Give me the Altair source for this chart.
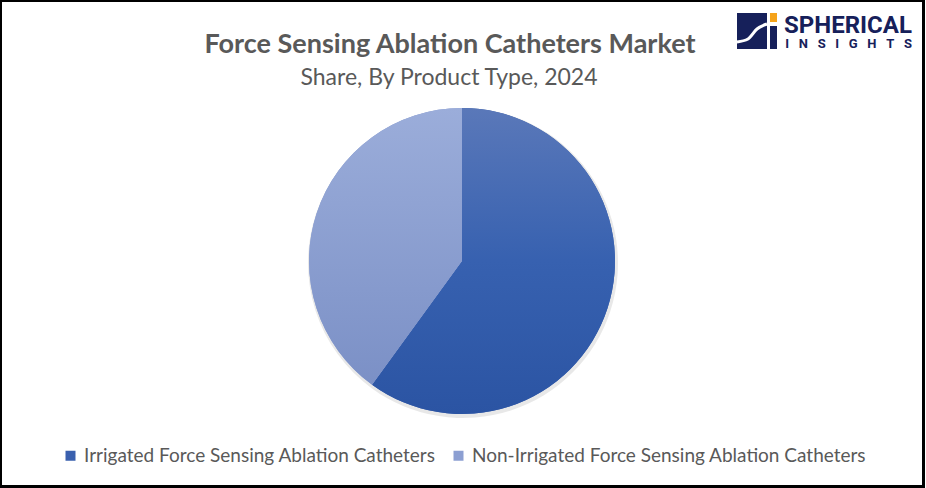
import math
import altair as alt
import pandas as pd

# Market share by product type, 2024 (%)
categories = [
    "Irrigated Force Sensing Ablation Catheters",
    "Non-Irrigated Force Sensing Ablation Catheters",
]
shares = [60, 40]
slice_order = [0, 1]

title_text = ["Force Sensing Ablation Catheters Market"]
subtitle_text = ["Share, By Product Type, 2024"]

W, H = 926, 488
CX, CY, R = 462, 261, 153
TEXT_GREY = "#595959"
NAVY = "#16205a"
ORANGE = "#f5a31a"
NBSP3 = "\u00a0\u00a0\u00a0"

flat_colors = ["#3a60ae", "#8c9fd2"]
grad_irrigated = alt.Gradient(
    gradient="linear", x1=0, y1=0, x2=0, y2=1,
    stops=[alt.GradientStop(offset=0, color="#5a78b9"),
           alt.GradientStop(offset=0.5, color="#3761b0"),
           alt.GradientStop(offset=1, color="#2b54a3")],
)
grad_non = alt.Gradient(
    gradient="linear", x1=0, y1=0, x2=0, y2=1,
    stops=[alt.GradientStop(offset=0, color="#9badda"),
           alt.GradientStop(offset=1, color="#7b90c6")],
)

df = pd.DataFrame({"category": categories, "share": shares, "order": slice_order})

base = (
    alt.Chart(df)
    .transform_window(cum="sum(share)", sort=[alt.SortField("order")])
    .transform_calculate(start="datum.cum - datum.share")
)

theta = alt.Theta("start:Q", scale=alt.Scale(domain=[0, 100], range=[0, 2 * math.pi]))
theta2 = alt.Theta2("cum:Q")

# soft drop shadow under the pie
shadow = base.mark_arc(outerRadius=R + 2, color="#000000", opacity=0.09).encode(
    theta=theta, theta2=theta2, x=alt.value(CX + 1), y=alt.value(CY + 2)
)

# flat-coloured pie: carries the legend
pie = base.mark_arc(outerRadius=R).encode(
    theta=theta,
    theta2=theta2,
    x=alt.value(CX),
    y=alt.value(CY),
    color=alt.Color(
        "category:N",
        scale=alt.Scale(domain=categories, range=flat_colors),
        legend=alt.Legend(
            title=None,
            orient="none",
            direction="horizontal",
            legendX=61,
            legendY=446,
            symbolType="square",
            symbolSize=100,
            symbolStrokeWidth=0,
            labelFont="Lato",
            labelFontSize=19,
            labelColor=TEXT_GREY,
            labelLimit=0,
            labelOffset=4,
            columnPadding=13,
            padding=0,
        ),
    ),
)

# gradient shading on top of each slice
shade_irr = base.transform_filter("datum.order == 0").mark_arc(
    outerRadius=R, fill=grad_irrigated
).encode(theta=theta, theta2=theta2, x=alt.value(CX), y=alt.value(CY))
shade_non = base.transform_filter("datum.order == 1").mark_arc(
    outerRadius=R, fill=grad_non
).encode(theta=theta, theta2=theta2, x=alt.value(CX), y=alt.value(CY))

one = pd.DataFrame({"k": [0]})

title = alt.Chart(pd.DataFrame({"t": title_text})).mark_text(
    font="Lato", fontSize=27, fontWeight="bold", color=TEXT_GREY, baseline="middle"
).encode(text="t:N", x=alt.value(450), y=alt.value(45))
subtitle = alt.Chart(pd.DataFrame({"t": subtitle_text})).mark_text(
    font="Lato", fontSize=23, color=TEXT_GREY, baseline="middle"
).encode(text="t:N", x=alt.value(449), y=alt.value(78))

# brand mark, top right
logo_box = alt.Chart(one).mark_rect(color=NAVY).encode(
    x=alt.value(737), x2=alt.value(767), y=alt.value(13), y2=alt.value(49)
)
logo_bar = alt.Chart(one).mark_rect(color=NAVY).encode(
    x=alt.value(770), x2=alt.value(777), y=alt.value(26), y2=alt.value(49)
)
logo_dot = alt.Chart(one).mark_rect(color=ORANGE).encode(
    x=alt.value(770), x2=alt.value(777), y=alt.value(13), y2=alt.value(22)
)
wave = pd.DataFrame({"px": [737, 748, 757, 767], "py": [42, 39, 29, 24]})
logo_wave = alt.Chart(wave).mark_line(
    color="white", strokeWidth=3, interpolate="monotone"
).encode(
    x=alt.X("px:Q", scale=alt.Scale(domain=[0, W], range=[0, W]), axis=None),
    y=alt.Y("py:Q", scale=alt.Scale(domain=[0, H], range=[0, H]), axis=None),
)
brand1 = alt.Chart(pd.DataFrame({"t": ["SPHERICAL"]})).mark_text(
    font="Roboto", fontSize=24, fontWeight="bold", color=NAVY, align="left", baseline="alphabetic"
).encode(text="t:N", x=alt.value(784), y=alt.value(33))
brand2 = alt.Chart(pd.DataFrame({"t": [NBSP3.join("INSIGHTS")]})).mark_text(
    font="Roboto", fontSize=13, fontWeight="bold", color=NAVY, align="right", baseline="alphabetic"
).encode(text="t:N", x=alt.value(912), y=alt.value(48))

frame = alt.Chart(one).mark_rect(fill="transparent", stroke="black", strokeWidth=3).encode(
    x=alt.value(0.5), x2=alt.value(923.5), y=alt.value(0.5), y2=alt.value(486.5)
)

chart = (
    alt.layer(
        shadow, pie, shade_irr, shade_non, title, subtitle,
        logo_box, logo_bar, logo_dot, logo_wave, brand1, brand2, frame,
    )
    .resolve_scale(x="independent", y="independent")
    .properties(width=W, height=H, padding=0, autosize=alt.AutoSizeParams(type="none"), background="white")
    .configure_view(stroke=None)
)

chart.save("out.html", embed_options={"renderer": "svg", "actions": False})
